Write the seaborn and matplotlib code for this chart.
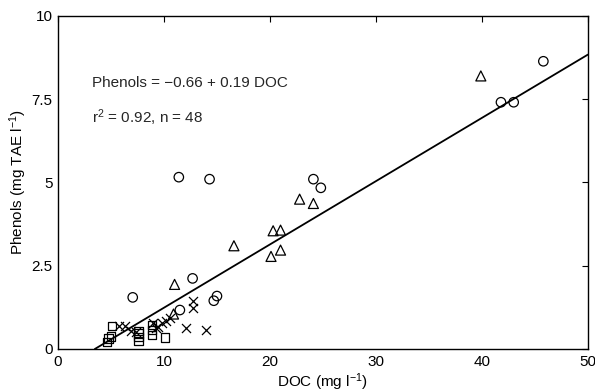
import matplotlib
matplotlib.use("Agg")
import matplotlib.pyplot as plt
import seaborn as sns
import pandas as pd
import numpy as np

# Dissolved organic carbon (mg/l) and phenol concentration (mg TAE/l) by group
circle_doc = [45.8, 41.8, 43.0, 24.1, 24.8, 11.4, 14.3, 12.7, 7.05, 11.5, 14.7, 15.0]
circle_phen = [8.64, 7.41, 7.41, 5.10, 4.84, 5.16, 5.10, 2.12, 1.55, 1.17, 1.45, 1.59]

triangle_doc = [39.9, 22.8, 24.1, 20.3, 21.0, 16.6, 20.1, 21.0, 11.0, 10.9]
triangle_phen = [8.20, 4.50, 4.37, 3.55, 3.57, 3.10, 2.78, 2.97, 1.94, 1.05]

cross_doc = [12.7, 12.7, 12.1, 14.0, 10.6, 10.2, 9.78, 9.46, 9.0, 9.2, 5.75, 6.3, 6.9, 7.4]
cross_phen = [1.45, 1.22, 0.63, 0.57, 0.93, 0.85, 0.77, 0.67, 0.77, 0.62, 0.69, 0.68, 0.54, 0.52]

square_doc = [5.1, 4.75, 4.65, 5.0, 7.6, 7.6, 7.6, 7.6, 8.9, 8.9, 8.9, 10.1]
square_phen = [0.70, 0.32, 0.22, 0.38, 0.55, 0.47, 0.36, 0.24, 0.72, 0.57, 0.42, 0.35]

# Fitted regression: Phenols = intercept + slope * DOC
intercept = -0.66
slope = 0.19

x_ticks = [0, 10, 20, 30, 40, 50]
y_ticks = [0, 2.5, 5, 7.5, 10]
y_tick_labels = ["0", "2.5", "5", "7.5", "10"]

sns.set_theme(style="white")
plt.rcParams["font.family"] = ["Liberation Sans", "DejaVu Sans"]
plt.rcParams["mathtext.fontset"] = "custom"
plt.rcParams["mathtext.rm"] = "Liberation Sans"
plt.rcParams["mathtext.it"] = "Liberation Sans:italic"

fig = plt.figure(figsize=(5.95, 3.92), dpi=100)
ax = fig.add_axes([0.0975, 0.1097, 0.8905, 0.8495])

groups = [
    (circle_doc, circle_phen, "o", 6.8),
    (triangle_doc, triangle_phen, "^", 7.2),
    (cross_doc, cross_phen, "x", 6.5),
    (square_doc, square_phen, "s", 6.0),
]
for xs, ys, mk, size in groups:
    df = pd.DataFrame({"DOC": xs, "Phenols": ys})
    if mk == "x":
        sns.scatterplot(data=df, x="DOC", y="Phenols", marker=mk, s=size ** 2,
                        color="black", linewidth=0.9, ax=ax, zorder=3)
    else:
        sns.scatterplot(data=df, x="DOC", y="Phenols", marker=mk, s=size ** 2,
                        facecolor="none", edgecolor="black", linewidth=0.9,
                        ax=ax, zorder=3)

x_start = -intercept / slope
fit = pd.DataFrame({"DOC": [x_start, 50.0]})
fit["Phenols"] = intercept + slope * fit["DOC"]
sns.lineplot(data=fit, x="DOC", y="Phenols", color="black", linewidth=1.3, ax=ax, zorder=2)

ax.set_xlim(0, 50)
ax.set_ylim(0, 10)
ax.set_xticks(x_ticks)
ax.set_yticks(y_ticks)
ax.set_yticklabels(y_tick_labels)
ax.tick_params(direction="in", length=4, width=0.8, top=True, right=True,
               labelsize=11, colors="black", pad=4)
for sp in ax.spines.values():
    sp.set_color("black")
    sp.set_linewidth(1.0)

ax.set_xlabel(r"DOC (mg l$^{-1}$)", fontsize=11, color="black", labelpad=2)
ax.set_ylabel(r"Phenols (mg TAE l$^{-1}$)", fontsize=11, color="black", labelpad=2)

ax.text(3.2, 7.99, "Phenols = \u22120.66 + 0.19 DOC", fontsize=11, va="center", ha="left")
ax.text(3.2, 6.94, r"r$^{2}$ = 0.92, n = 48", fontsize=11, va="center", ha="left")

fig.savefig("out.png", dpi=100)
